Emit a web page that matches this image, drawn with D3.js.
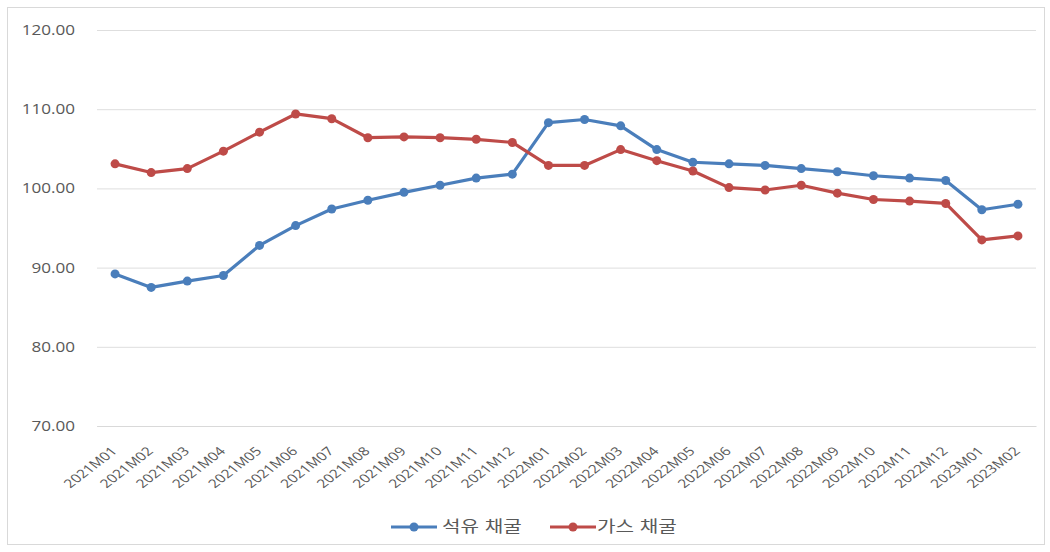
<!DOCTYPE html>
<html lang="ko">
<head>
    <meta charset="UTF-8">
    <title>석유 채굴 / 가스 채굴</title>
    <script src="https://d3js.org/d3.v7.min.js"></script>
    <style>
        body {
            margin: 0;
            background: #fff;
            font-family: "Noto Sans CJK KR", "Noto Sans", sans-serif;
        }
    </style>
</head>
<body>
    <div id="chart"></div>

    <script>
        const months = [
            '2021M01', '2021M02', '2021M03', '2021M04', '2021M05', '2021M06',
            '2021M07', '2021M08', '2021M09', '2021M10', '2021M11', '2021M12',
            '2022M01', '2022M02', '2022M03', '2022M04', '2022M05', '2022M06',
            '2022M07', '2022M08', '2022M09', '2022M10', '2022M11', '2022M12',
            '2023M01', '2023M02'
        ];
        const oilValues = [
            89.2, 87.5, 88.3, 89.0, 92.8, 95.3, 97.4, 98.5, 99.5, 100.4, 101.3, 101.8,
            108.3, 108.7, 107.9, 104.9, 103.3, 103.1, 102.9, 102.5, 102.1, 101.6, 101.3, 101.0,
            97.3, 98.0
        ];
        const gasValues = [
            103.1, 102.0, 102.5, 104.7, 107.1, 109.4, 108.8, 106.4, 106.5, 106.4, 106.2, 105.8,
            102.9, 102.9, 104.9, 103.5, 102.2, 100.1, 99.8, 100.4, 99.4, 98.6, 98.4, 98.1,
            93.5, 94.0
        ];
        const yTicks = [70, 80, 90, 100, 110, 120];
        const seriesNames = ['석유 채굴', '가스 채굴'];
        const colors = ['#4a7ebb', '#be4b48'];

        const width = 1050, height = 552;
        const plot = { left: 97, right: 1036, top: 30, bottom: 426 };
        // the source picture is stretched sideways a little
        const stretch = 1.22;

        const svg = d3.select('#chart').append('svg')
            .attr('width', width)
            .attr('height', height);

        // outer chart border
        svg.append('rect')
            .attr('x', 7.5).attr('y', 7.5)
            .attr('width', 1037).attr('height', 537)
            .attr('fill', 'none')
            .attr('stroke', '#d9d9d9');

        const x = d3.scaleBand()
            .domain(months)
            .range([plot.left, plot.right]);

        const y = d3.scaleLinear()
            .domain([70, 120])
            .range([plot.bottom, plot.top]);

        // gridlines + y labels
        const yAxis = svg.append('g')
            .attr('transform', `translate(${plot.left},0)`)
            .call(d3.axisLeft(y).tickValues(yTicks)
                .tickSize(-(plot.right - plot.left))
                .tickFormat(d3.format('.2f')));
        yAxis.select('.domain').remove();
        yAxis.selectAll('.tick line').attr('stroke', '#dedede');
        yAxis.selectAll('.tick text')
            .attr('x', 0)
            .attr('fill', '#595959')
            .style('font-family', '"Open Sans", "DejaVu Sans", sans-serif')
            .style('font-size', '14px')
            .attr('transform', `translate(-22,0) scale(${stretch},1)`);

        // x labels
        const xAxis = svg.append('g')
            .attr('transform', `translate(0,${plot.bottom})`)
            .call(d3.axisBottom(x).tickSize(0).tickPadding(0));
        xAxis.select('.domain').attr('stroke', '#d9d9d9');
        xAxis.selectAll('.tick text')
            .attr('y', 0)
            .attr('dy', null)
            .attr('fill', '#595959')
            .style('font-family', '"Open Sans", "DejaVu Sans", sans-serif')
            .style('font-size', '12px')
            .attr('text-anchor', 'end')
            .attr('transform', 'translate(3,26) scale(1.3,1) rotate(-45)');

        const line = d3.line()
            .x((d, i) => x(months[i]) + x.bandwidth() / 2)
            .y(d => y(d));

        [oilValues, gasValues].forEach((vals, k) => {
            svg.append('path')
                .datum(vals)
                .attr('d', line)
                .attr('fill', 'none')
                .attr('stroke', colors[k])
                .attr('stroke-width', 3.2)
                .attr('stroke-linejoin', 'round');
            svg.append('g').selectAll('circle')
                .data(vals)
                .enter()
                .append('circle')
                .attr('cx', (d, i) => x(months[i]) + x.bandwidth() / 2)
                .attr('cy', d => y(d))
                .attr('r', 4.5)
                .attr('fill', colors[k]);
        });

        // legend
        const legend = svg.append('g').attr('transform', 'translate(391,527)');
        seriesNames.forEach((name, k) => {
            const g = legend.append('g').attr('transform', `translate(${k * 159},0)`);
            g.append('line')
                .attr('x1', 0).attr('x2', 46)
                .attr('stroke', colors[k]).attr('stroke-width', 3);
            g.append('circle').attr('cx', 23).attr('r', 4.5).attr('fill', colors[k]);
            g.append('text')
                .attr('dy', '0.35em')
                .attr('fill', '#595959')
                .style('font-size', '15.5px')
                .attr('transform', `translate(${k === 0 ? 51 : 47},0) scale(1.3,1)`)
                .text(name);
        });
    </script>
</body>
</html>
